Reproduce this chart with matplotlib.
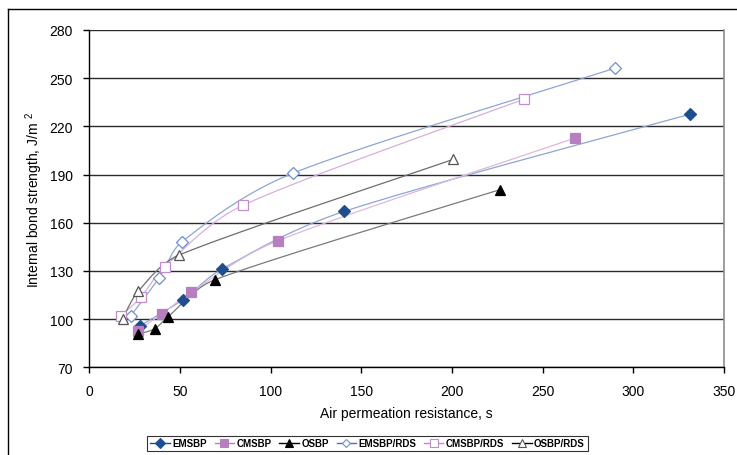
import numpy as np
import matplotlib
matplotlib.use("Agg")
import matplotlib.pyplot as plt
from matplotlib.lines import Line2D

plt.rcParams['font.family'] = ['Liberation Sans', 'DejaVu Sans']
plt.rcParams['mathtext.fontset'] = 'custom'
plt.rcParams['mathtext.rm'] = 'Liberation Sans'

# ---- data ----
series_names = ["EMSBP", "CMSBP", "OSBP", "EMSBP/RDS", "CMSBP/RDS", "OSBP/RDS"]
emsbp_x = [28, 51.5, 73, 140.4, 331]
emsbp_y = [95.9, 112.0, 131.0, 167.0, 227.5]
cmsbp_x = [26.7, 40.0, 56.0, 104.0, 268.0]
cmsbp_y = [92.8, 103.2, 116.6, 148.8, 212.8]
osbp_x = [27.0, 36.0, 43.2, 69.2, 226.5]
osbp_y = [90.7, 94.0, 101.2, 124.5, 180.6]
emsbp_rds_x = [22.8, 38.4, 50.9, 112.2, 290.0]
emsbp_rds_y = [102.0, 125.6, 148.0, 190.8, 256.3]
cmsbp_rds_x = [17.3, 28.3, 41.8, 84.8, 239.8]
cmsbp_rds_y = [102.0, 113.5, 132.7, 170.9, 237.0]
osbp_rds_x = [18.4, 27.0, 49.5, 200.8]
osbp_rds_y = [100.3, 117.3, 139.9, 199.5]

x_ticks = [0, 50, 100, 150, 200, 250, 300, 350]
y_ticks = [70, 100, 130, 160, 190, 220, 250, 280]


def smooth(xs, ys, n=40, cap=0.45):
    """Excel-like smoothed line: Catmull-Rom Bezier, with control points kept
    inside each segment's x-span so no loops appear."""
    P = np.column_stack([xs, ys]).astype(float)
    P = np.vstack([P[0], P, P[-1]])
    out = []
    t = np.linspace(0, 1, n)[:, None]
    for i in range(1, len(P) - 2):
        p0, p1, p2, p3 = P[i - 1], P[i], P[i + 1], P[i + 2]
        span = p2[0] - p1[0]
        v1 = (p2 - p0) / 6.0
        v2 = (p3 - p1) / 6.0
        if v1[0] > cap * span:
            v1 = v1 * (cap * span / v1[0])
        if v2[0] > cap * span:
            v2 = v2 * (cap * span / v2[0])
        c1 = p1 + v1
        c2 = p2 - v2
        seg = ((1 - t) ** 3) * p1 + 3 * ((1 - t) ** 2) * t * c1 + 3 * (1 - t) * t ** 2 * c2 + t ** 3 * p2
        out.append(seg if i == 1 else seg[1:])
    S = np.vstack(out)
    return S[:, 0], S[:, 1]


fig = plt.figure(figsize=(7.37, 4.56), dpi=100)
W, H = 737, 456
ax = fig.add_axes([89.3 / W, 1 - 368.3 / H, (724 - 89.3) / W, (368.3 - 31) / H])

styles = [
    dict(x=emsbp_x, y=emsbp_y, lc="#8EA5D6", marker="D", ms=6.5, mfc="#1F4E8F", mec="#1F4E8F"),
    dict(x=cmsbp_x, y=cmsbp_y, lc="#DDB8E0", marker="s", ms=7.8, mfc="#B57FC0", mec="#B57FC0"),
    dict(x=osbp_x, y=osbp_y, lc="#7A7A7A", marker="^", ms=7.5, mfc="#000000", mec="#000000"),
    dict(x=emsbp_rds_x, y=emsbp_rds_y, lc="#8EA5D6", marker="D", ms=6.0, mfc="white", mec="#6F8FCB"),
    dict(x=cmsbp_rds_x, y=cmsbp_rds_y, lc="#D9AEDD", marker="s", ms=7.5, mfc="white", mec="#C18DCB"),
    dict(x=osbp_rds_x, y=osbp_rds_y, lc="#6E6E6E", marker="^", ms=7.5, mfc="white", mec="#555555"),
]
legend_line_colors = ["#1F4E8F", "#B57FC0", "#000000", "#4F6FB0", "#C18DCB", "#000000"]

handles = []
for i, (name, st) in enumerate(zip(series_names, styles)):
    sx, sy = smooth(st["x"], st["y"])
    ax.plot(sx, sy, color=st["lc"], lw=0.9, zorder=3 + i * 0.1, solid_capstyle="round")
    ax.plot(st["x"], st["y"], ls="none", marker=st["marker"], ms=st["ms"],
            mfc=st["mfc"], mec=st["mec"], mew=0.9, zorder=4 + i * 0.1)
    handles.append(Line2D([], [], color=legend_line_colors[i], lw=1.0,
                          marker=st["marker"], ms=st["ms"] * 0.75,
                          mfc=st["mfc"], mec=st["mec"], mew=0.8))

ax.set_xlim(0, 350)
ax.set_ylim(70, 280)
ax.set_xticks(x_ticks)
ax.set_yticks(y_ticks)
ax.yaxis.grid(True, color="#2a2a2a", lw=1.0)
ax.set_axisbelow(True)
ax.spines["top"].set_visible(False)
ax.spines["right"].set_color("#8c8c8c")
ax.spines["right"].set_linewidth(1.2)
ax.spines["left"].set_color("black")
ax.spines["bottom"].set_color("black")
ax.spines["left"].set_linewidth(1.0)
ax.spines["bottom"].set_linewidth(1.0)
ax.tick_params(axis="both", direction="out", length=4, width=1.0, labelsize=10, colors="black")
ax.tick_params(axis="x", pad=8)
ax.tick_params(axis="y", pad=8)
ax.set_xlabel("Air permeation resistance, s", fontsize=10, labelpad=6)
ax.set_ylabel("Internal bond strength, J/m $^{2}$", fontsize=10, labelpad=3)

leg = fig.legend(handles, series_names, loc="center", ncol=6,
                 bbox_to_anchor=(367.5 / W, 1 - 444.5 / H),
                 prop=dict(size=7, weight="bold"), frameon=True, fancybox=False,
                 edgecolor="black", handlelength=2.0, handletextpad=0.25,
                 columnspacing=0.8, borderpad=0.3, borderaxespad=0)
leg.get_frame().set_linewidth(0.8)

# outer chart frame (top and left edges visible)
fig.add_artist(Line2D([8 / W, 1], [1 - 10 / H, 1 - 10 / H], color="black", lw=1.0, transform=fig.transFigure))
fig.add_artist(Line2D([8 / W, 8 / W], [0, 1 - 10 / H], color="black", lw=1.0, transform=fig.transFigure))

fig.savefig("out.png", dpi=100)
